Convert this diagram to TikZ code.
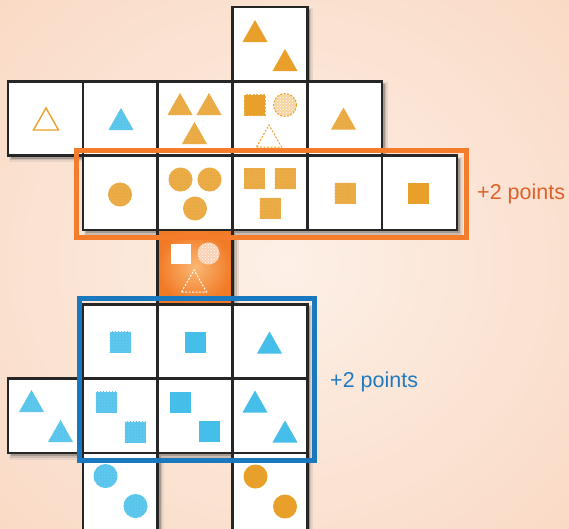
\documentclass[tikz,border=0pt]{standalone}
\usepackage{fontspec}
\setmainfont{Liberation Sans}
\usetikzlibrary{patterns}
\definecolor{oC}{RGB}{232,160,43}
\definecolor{bC}{RGB}{69,190,234}
\definecolor{frameO}{RGB}{244,124,43}
\definecolor{frameB}{RGB}{26,120,190}
\definecolor{txtO}{RGB}{221,97,41}
\definecolor{txtB}{RGB}{31,122,194}
\definecolor{cellB}{RGB}{38,38,38}
\definecolor{bgIn}{RGB}{253,240,231}
\definecolor{bgOut}{RGB}{249,216,194}
\definecolor{ocIn}{RGB}{251,184,116}
\definecolor{ocOut}{RGB}{241,122,38}
\definecolor{shA}{RGB}{232,212,199}
\definecolor{shB}{RGB}{205,188,177}
\definecolor{shC}{RGB}{165,152,143}
\newcommand\shT[3]{\path[#3] ({#1-12.5},{#2+11}) -- ({#1+12.5},{#2+11}) -- (#1,{#2-11}) -- cycle;}
\newcommand\shS[3]{\path[#3] ({#1-10.5},{#2-10.5}) rectangle ({#1+10.5},{#2+10.5});}
\newcommand\shCi[3]{\path[#3] (#1,#2) circle[radius=12];}
\tikzset{
  cellbox/.style={fill=white, draw=cellB, line width=2.6pt},
  cellframe/.style={draw=cellB, line width=2.6pt},
  solidO/.style={fill=oC},
  solidB/.style={fill=bC},
  texO/.style={preaction={fill=oC!85!white}, pattern=crosshatch dots, pattern color=oC},
  texB/.style={preaction={fill=bC!85!white}, pattern=crosshatch dots, pattern color=bC},
  hollowO/.style={fill=white, draw=oC, line width=1.4pt},
  dashO/.style={draw=oC, line width=1pt, dash pattern=on 2pt off 1.5pt},
  dashSolidO/.style={fill=oC, draw=oC!80!white, line width=1pt, dash pattern=on 2pt off 1.5pt},
  lightO/.style={preaction={fill=oC!45!white}, pattern=crosshatch dots, pattern color=white, postaction={draw=oC, line width=1pt, dash pattern=on 2pt off 1.5pt}},
  solidW/.style={fill=white},
  lightW/.style={preaction={fill=white!65!ocOut}, pattern=crosshatch dots, pattern color=white},
  dashW/.style={draw=white, line width=1pt, dash pattern=on 2pt off 1.5pt},
  frameOr/.style={draw=frameO, line width=5pt},
  frameBl/.style={draw=frameB, line width=5pt},
  ptsO/.style={text=txtO, anchor=base west, inner sep=0pt, font=\fontsize{21.5}{25}\selectfont},
  ptsB/.style={text=txtB, anchor=base west, inner sep=0pt, font=\fontsize{21.5}{25}\selectfont}
}
\begin{document}
\begin{tikzpicture}[x=1pt,y=-1pt]
\useasboundingbox (0,0) rectangle (569,528);
\clip (0,0) rectangle (569,528);
\shade[inner color=bgIn, outer color=bgOut] (-150,-150) rectangle (719,678);
% shadows
\foreach \c/\r in {4/0,1/1,2/1,3/1,4/1,5/1,2/2,3/2,4/2,5/2,6/2,3/3,2/4,3/4,4/4,1/5,2/5,3/5,4/5,2/6,4/6}{
  \fill[shA] ({8+74.8*(\c-1)+1},{7+74.3*\r+1}) rectangle +(80,80);
}
\foreach \c/\r in {4/0,1/1,2/1,3/1,4/1,5/1,2/2,3/2,4/2,5/2,6/2,3/3,2/4,3/4,4/4,1/5,2/5,3/5,4/5,2/6,4/6}{
  \fill[shB] ({8+74.8*(\c-1)+2},{7+74.3*\r+2}) rectangle +(77,77);
}
\foreach \c/\r in {4/0,1/1,2/1,3/1,4/1,5/1,2/2,3/2,4/2,5/2,6/2,3/3,2/4,3/4,4/4,1/5,2/5,3/5,4/5,2/6,4/6}{
  \fill[shC] ({8+74.8*(\c-1)+3},{7+74.3*\r+3}) rectangle +(74.8,74.3);
}
% cells
\foreach \c/\r in {4/0,1/1,2/1,3/1,4/1,5/1,2/2,3/2,4/2,5/2,6/2,2/4,3/4,4/4,1/5,2/5,3/5,4/5}{
  \draw[cellbox] ({8+74.8*(\c-1)},{7+74.3*\r}) rectangle +(74.8,74.3);
}
\foreach \c in {2,4}{
  \draw[cellbox] ({8+74.8*(\c-1)},452.8) rectangle +(74.8,90);
}
% orange cell
\shade[inner color=ocIn, outer color=ocOut] (157.6,229.9) rectangle (232.4,304.2);
\draw[cellframe] (157.6,229.9) rectangle (232.4,304.2);
% row 0
\shT{255}{31}{solidO}
\shT{285}{60}{solidO}
% row 1
\shT{46}{119}{hollowO}
\shT{121}{119}{texB}
\shT{180}{104}{texO}
\shT{209}{104}{texO}
\shT{194.5}{133}{texO}
\shS{254.5}{105}{dashSolidO}
\path[lightO] (285,105) circle[radius=11.5];
\shT{269}{136}{dashO}
\shT{343.5}{118.5}{texO}
% row 2
\shCi{120}{194.5}{texO}
\shCi{180.5}{179.5}{texO}
\shCi{209.5}{179.5}{texO}
\shCi{195}{208.5}{texO}
\shS{254.5}{178.5}{texO}
\shS{285}{178.5}{texO}
\shS{270}{208}{texO}
\shS{345}{193}{texO}
\shS{418.5}{193}{solidO}
% orange cell
\path[solidW] (171,243.5) rectangle (191,263.5);
\path[lightW] (208.5,253.5) circle[radius=11];
\shT{194}{281}{dashW}
% row 4
\shS{120}{342}{texB}
\shS{195}{342}{solidB}
\shT{269.5}{342.5}{solidB}
% row 5
\shT{31.5}{401}{texB}
\shT{60.5}{431}{texB}
\shS{106}{402}{texB}
\shS{135}{432}{texB}
\shS{180.5}{402.5}{solidB}
\shS{209.5}{431.5}{solidB}
\shT{255}{401.5}{solidB}
\shT{285}{431.5}{solidB}
% row 6
\shCi{105.5}{476}{texB}
\shCi{135.5}{506}{texB}
\shCi{255.5}{476.5}{solidO}
\shCi{285}{506.5}{solidO}
% frames
\draw[frameOr] (76.5,150.5) rectangle (466,237);
\draw[frameBl] (79,298.5) rectangle (314.5,460);
\node[ptsO] (po) at (477,199) {+2 points};
\node[ptsB] (pb) at (330,387) {+2 points};
\end{tikzpicture}
\end{document}
